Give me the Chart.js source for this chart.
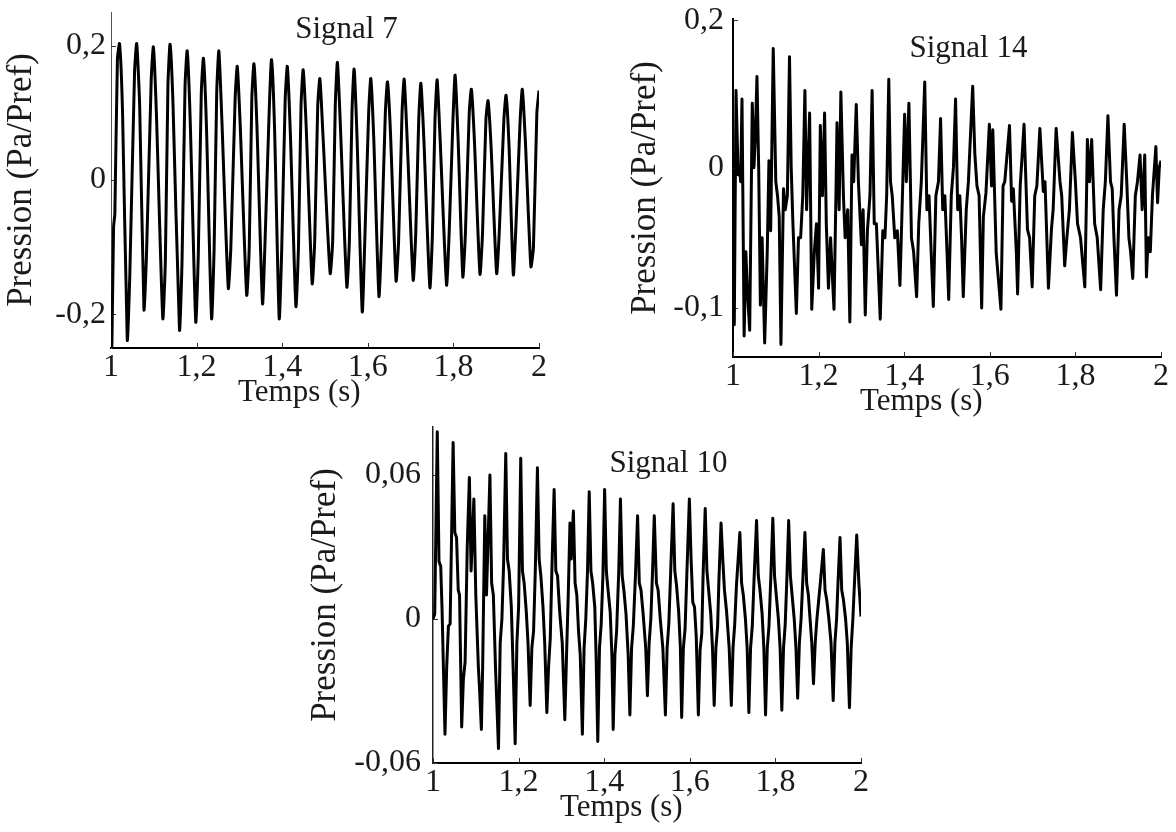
<!DOCTYPE html>
<html lang="fr">
<head>
<meta charset="UTF-8">
<title>Signaux de pression</title>
<script src="https://cdn.jsdelivr.net/npm/chart.js"></script>
<style>
  html, body { margin: 0; padding: 0; background: #fff; overflow: hidden; }
  .plot { position: absolute; }
</style>
</head>
<body>
<div class="plot" style="left:0px;top:0px;width:560px;height:420px"><canvas id="c7"></canvas></div>
<div class="plot" style="left:625px;top:0px;width:551px;height:425px"><canvas id="c14"></canvas></div>
<div class="plot" style="left:305px;top:410px;width:575px;height:422px"><canvas id="c10"></canvas></div>
<script>
// axe des temps commun
const xTicks = [1, 1.1, 1.2, 1.3, 1.4, 1.5, 1.6, 1.7, 1.8, 1.9, 2];
const xText = ['1', '', '1,2', '', '1,4', '', '1,6', '', '1,8', '', '2'];

// Signal 7 : temps (s) / pression (Pa/Pref)
const t7 = [1.000,1.002,1.006,1.009,1.015,1.020,1.027,
  1.038,1.044,1.055,1.060,1.067, 1.077,1.083,1.094,1.099,1.106, 1.121,1.127,1.133,1.138,1.145,
  1.160,1.166,1.173,1.178,1.185, 1.198,1.204,1.211,1.216,1.223, 1.235,1.241,1.247,1.252,1.259,
  1.274,1.280,1.290,1.295,1.302, 1.317,1.323,1.329,1.334,1.341, 1.354,1.360,1.370,1.375,1.382,
  1.393,1.399,1.407,1.412,1.419, 1.432,1.438,1.444,1.449,1.456, 1.470,1.476,1.483,1.488,1.495,
  1.512,1.518,1.524,1.529,1.536, 1.551,1.557,1.563,1.568,1.575, 1.587,1.593,1.602,1.607,1.614,
  1.626,1.632,1.641,1.646,1.653, 1.666,1.672,1.680,1.685,1.692, 1.706,1.712,1.719,1.724,1.731,
  1.745,1.751,1.757,1.762,1.769, 1.784,1.790,1.799,1.804,1.811, 1.822,1.828,1.837,1.842,1.849,
  1.862,1.868,1.876,1.881,1.888, 1.901,1.907,1.918,1.923,1.930, 1.940,1.946,1.956,1.961,1.968,
  1.981,1.987,1.995,2.000];
const p7 = [-0.17,-0.248,-0.07,-0.05,0.18,0.203,0.10,
  -0.238,-0.14,0.16,0.203,0.11, -0.193,-0.11,0.15,0.198,0.10, -0.206,-0.12,0.14,0.202,0.11,
  -0.223,-0.12,0.14,0.192,0.09, -0.211,-0.11,0.13,0.181,0.08, -0.206,-0.10,0.13,0.192,0.09,
  -0.161,-0.10,0.12,0.169,0.08, -0.171,-0.10,0.12,0.173,0.08, -0.184,-0.09,0.11,0.179,0.08,
  -0.206,-0.10,0.12,0.169,0.07, -0.188,-0.10,0.11,0.164,0.08, -0.154,-0.09,0.11,0.151,0.07,
  -0.139,-0.09,0.11,0.175,0.08, -0.159,-0.09,0.10,0.165,0.06, -0.196,-0.09,0.10,0.151,0.06,
  -0.173,-0.09,0.10,0.146,0.07, -0.150,-0.09,0.10,0.150,0.06, -0.149,-0.08,0.09,0.144,0.06,
  -0.160,-0.08,0.09,0.149,0.06, -0.156,-0.08,0.09,0.156,0.06, -0.144,-0.08,0.10,0.135,0.06,
  -0.140,-0.08,0.09,0.118,0.05, -0.139,-0.08,0.09,0.126,0.05, -0.141,-0.07,0.09,0.135,0.06,
  -0.129,-0.10,0.10,0.133];
const y7Ticks = [-0.25, -0.2, -0.15, -0.1, -0.05, 0, 0.05, 0.1, 0.15, 0.2, 0.25];
const y7Text = ['', '-0,2', '', '', '', '0', '', '', '', '0,2', ''];

// Signal 14
const t14 = [1.000,1.003,1.007,1.012,1.015,1.018,1.021,1.026,1.030,1.034,
  1.039,1.045,1.049,1.052,1.056,1.060,1.064,1.068,1.074,1.080,
  1.084,1.088,1.094,1.100,1.104,1.108,1.112,1.118,1.122,1.127,
  1.132,1.136,1.140,1.148,1.153,1.158,1.163,1.168,1.172,1.179,
  1.184,1.190,1.195,1.200,1.204,1.209,1.214,1.218,1.223,1.228,
  1.231,1.236,1.241,1.243,1.248,1.252,1.258,1.262,1.268,1.273,
  1.278,1.282,1.288,1.293,1.300,1.304,1.309,1.314,1.320,1.325,
  1.330,1.335,1.339,1.344,1.350,1.355,1.359,1.364,1.368,1.372,
  1.378,1.384,1.390,1.395,1.401,1.405,1.411,1.417,1.422,1.429,
  1.434,1.440,1.448,1.453,1.458,1.463,1.468,1.474,1.480,1.485,
  1.490,1.495,1.500,1.504,1.510,1.515,1.520,1.525,1.530,1.534,
  1.538,1.545,1.550,1.560,1.565,1.570,1.575,1.581,1.585,1.591,
  1.599,1.604,1.607,1.615,1.626,1.631,1.635,1.646,1.651,1.655,
  1.662,1.665,1.671,1.675,1.680,1.688,1.693,1.699,1.705,1.710,
  1.717,1.725,1.729,1.737,1.744,1.748,1.755,1.764,1.768,1.775,
  1.780,1.786,1.793,1.800,1.805,1.812,1.822,1.826,1.828,1.833,
  1.838,1.845,1.851,1.859,1.865,1.870,1.876,1.882,1.886,1.890,
  1.896,1.902,1.907,1.914,1.920,1.925,1.929,1.934,1.940,1.945,
  1.951,1.956,1.962,1.966,1.970,1.975,1.980,1.988,1.992,1.996,
  2.000];
const p14 = [-0.050,-0.112,0.055,-0.005,0.000,-0.010,0.049,-0.120,-0.060,-0.090,
  -0.116,0.046,0.000,0.020,0.065,0.000,-0.098,-0.050,-0.125,-0.060,
  0.005,-0.045,0.085,-0.010,-0.020,-0.035,-0.126,-0.015,-0.030,-0.020,
  0.079,0.000,-0.040,-0.104,-0.050,-0.050,-0.020,0.055,-0.030,0.039,
  -0.101,-0.060,-0.040,-0.086,0.030,-0.020,0.039,-0.040,-0.086,-0.050,
  -0.070,-0.101,-0.010,0.032,-0.030,0.054,-0.020,-0.050,-0.030,-0.110,
  0.009,-0.010,0.045,-0.010,-0.055,-0.030,-0.105,-0.045,-0.020,0.055,
  -0.040,-0.040,-0.070,-0.108,-0.045,-0.050,-0.020,0.063,-0.010,-0.020,
  -0.050,-0.045,-0.084,-0.030,0.038,-0.010,0.046,-0.050,-0.060,-0.092,
  -0.040,-0.010,0.061,-0.030,-0.020,-0.060,-0.099,-0.020,-0.010,0.035,
  -0.030,-0.020,-0.060,-0.094,-0.020,0.000,0.049,-0.030,-0.020,-0.050,
  -0.092,-0.030,-0.010,0.058,0.010,-0.013,-0.020,-0.100,-0.035,-0.018,
  0.031,-0.013,0.027,-0.061,-0.101,-0.013,-0.010,0.030,-0.024,-0.015,
  -0.060,-0.090,-0.013,0.006,0.031,-0.044,-0.050,-0.085,-0.020,-0.013,
  0.028,-0.017,-0.010,-0.086,-0.044,-0.030,0.028,-0.010,-0.020,-0.070,
  -0.050,-0.030,0.025,-0.010,-0.040,-0.050,-0.085,-0.020,0.020,-0.010,
  0.020,-0.040,-0.050,-0.087,-0.030,-0.010,0.037,-0.010,-0.015,-0.050,
  -0.091,-0.030,-0.020,0.031,-0.010,-0.050,-0.060,-0.079,-0.020,-0.010,
  0.009,-0.030,0.009,-0.078,-0.050,-0.060,-0.020,0.015,-0.025,0.000,
  0.005];
const y14Ticks = [-0.1, 0, 0.072, 0.105];
const y14Text = ['-0,1', '0', '', '0,2'];

// Signal 10
const t10 = [1.000,1.004,1.010,1.014,1.018,1.021,1.028,1.032,1.036,1.040,
  1.047,1.051,1.055,1.059,1.062,1.067,1.071,1.075,1.080,1.085,
  1.089,1.0955,1.100,1.106,1.109,1.113,1.116,1.121,1.125,1.133,
  1.137,1.141,1.146,1.153,1.157,1.161,1.165,1.170,1.174,1.178,
  1.183,1.188,1.192,1.196,1.200,1.205,1.209,1.213,1.218,1.222,
  1.227,1.231,1.235,1.239,1.244,1.248,1.252,1.257,1.261,1.266,
  1.270,1.274,1.278,1.283,1.287,1.291,1.296,1.302,1.308,1.312,
  1.316,1.320,1.323,1.328,1.332,1.336,1.340,1.344,1.349,1.353,
  1.357,1.361,1.365,1.369,1.373,1.378,1.381,1.385,1.389,1.393,
  1.397,1.401,1.405,1.409,1.414,1.418,1.421,1.425,1.429,1.434,
  1.438,1.442,1.446,1.451,1.456,1.460,1.464,1.468,1.473,1.478,
  1.482,1.486,1.491,1.497,1.501,1.505,1.509,1.513,1.517,1.522,
  1.526,1.531,1.537,1.543,1.547,1.551,1.555,1.561,1.565,1.569,
  1.574,1.578,1.581,1.585,1.589,1.593,1.599,1.603,1.607,1.611,
  1.615,1.620,1.624,1.628,1.631,1.636,1.640,1.644,1.649,1.653,
  1.657,1.661,1.665,1.668,1.673,1.677,1.681,1.686,1.692,1.697,
  1.701,1.705,1.709,1.717,1.721,1.725,1.730,1.734,1.738,1.742,
  1.746,1.750,1.756,1.760,1.764,1.769,1.773,1.777,1.781,1.785,
  1.789,1.794,1.798,1.802,1.807,1.811,1.815,1.819,1.823,1.827,
  1.831,1.835,1.839,1.844,1.848,1.852,1.856,1.860,1.864,1.869,
  1.873,1.877,1.881,1.885,1.889,1.893,1.897,1.905,1.912,1.916,
  1.920,1.925,1.930,1.935,1.939,1.943,1.946,1.951,1.955,1.959,
  1.964,1.968,1.973,1.977,1.981,1.985,1.990,1.995,2.000];
const p10 = [0.000,0.002,0.078,0.024,0.022,0.005,-0.048,-0.020,-0.003,-0.002,
  0.0735,0.036,0.034,0.012,0.010,-0.045,-0.025,-0.018,0.030,0.059,
  0.020,0.050,0.010,-0.020,-0.030,-0.046,-0.020,0.043,0.010,0.060,
  0.015,0.010,-0.020,-0.054,-0.010,0.000,0.023,0.069,0.025,0.020,
  0.005,-0.025,-0.052,-0.010,0.005,0.067,0.020,0.015,0.003,-0.010,
  -0.036,-0.012,-0.005,0.020,0.063,0.025,0.018,0.005,-0.010,-0.039,
  -0.020,-0.008,0.022,0.054,0.020,0.018,0.003,-0.010,-0.042,-0.015,
  0.010,0.040,0.025,0.045,0.015,0.010,-0.005,-0.015,-0.048,-0.012,
  0.000,0.020,0.053,0.020,0.015,0.005,-0.015,-0.051,-0.012,-0.002,
  0.018,0.054,0.020,0.012,0.003,-0.015,-0.046,-0.015,-0.005,0.020,
  0.050,0.018,0.012,0.002,-0.015,-0.040,-0.012,-0.003,0.018,0.043,
  0.015,0.012,0.002,-0.012,-0.032,-0.010,0.000,0.020,0.043,0.015,
  0.012,0.000,-0.012,-0.040,-0.012,-0.002,0.018,0.048,0.020,0.014,
  0.003,-0.012,-0.041,-0.012,-0.004,0.018,0.050,0.025,0.007,0.005,
  -0.007,-0.040,-0.013,-0.006,0.018,0.046,0.020,0.012,0.002,-0.012,
  -0.036,-0.012,-0.003,0.016,0.040,0.025,0.012,0.003,-0.012,-0.036,
  -0.012,-0.002,0.014,0.036,0.015,0.010,0.000,-0.012,-0.039,-0.012,
  -0.003,0.016,0.041,0.018,0.012,0.002,-0.012,-0.040,-0.012,-0.003,
  0.016,0.042,0.018,0.010,0.000,-0.012,-0.038,-0.012,-0.002,0.018,
  0.041,0.018,0.010,0.000,-0.012,-0.033,-0.010,0.000,0.016,0.036,
  0.015,0.010,0.000,-0.010,-0.027,-0.010,0.000,0.015,0.029,0.012,
  0.008,0.000,-0.010,-0.034,-0.010,0.000,0.014,0.034,0.012,0.008,
  0.000,-0.010,-0.037,-0.012,0.000,0.016,0.035,0.015,0.001];
const y10Ticks = [-0.06, -0.04, -0.02, 0, 0.02, 0.04, 0.06, 0.08];
const y10Text = ['-0,06', '', '', '0', '', '', '0,06', ''];

const FONT = '"Liberation Serif", "Times New Roman", serif';
const TXT = '#1a1a1a';

// petits traits vers l'interieur + titres dans le cadre
const signalText = {
  id: 'signalText',
  beforeDatasetsDraw(chart) {
    const {ctx, chartArea: a, scales: {x, y}} = chart;
    ctx.save();
    ctx.strokeStyle = '#333';
    ctx.lineWidth = 1;
    ctx.beginPath();
    x.ticks.forEach(tk => {
      const px = Math.round(x.getPixelForValue(tk.value)) + 0.5;
      ctx.moveTo(px, a.bottom);
      ctx.lineTo(px, a.bottom - 5);
    });
    y.ticks.forEach(tk => {
      const py = Math.round(y.getPixelForValue(tk.value)) + 0.5;
      ctx.moveTo(a.left, py);
      ctx.lineTo(a.left + 5, py);
    });
    ctx.stroke();
    ctx.restore();
  },
  afterDraw(chart, args, opts) {
    const {ctx, chartArea: a, scales: {x, y}} = chart;
    ctx.save();
    ctx.fillStyle = TXT;
    ctx.font = '31px ' + FONT;
    ctx.textAlign = 'center';
    ctx.textBaseline = 'alphabetic';
    ctx.fillText(opts.title, x.getPixelForValue(opts.at[0]), y.getPixelForValue(opts.at[1]));
    ctx.fillText('Temps (s)', x.getPixelForValue(opts.xTitleAt), a.bottom + 53);
    ctx.restore();
  }
};

function makePlot(id, t, p, o) {
  return new Chart(document.getElementById(id), {
    type: 'line',
    data: {
      datasets: [{
        data: t.map((v, i) => ({x: v, y: p[i]})),
        borderColor: '#000',
        borderWidth: 3,
        pointRadius: 0,
        tension: o.tension,
        borderJoinStyle: 'round'
      }]
    },
    options: {
      animation: false,
      responsive: true,
      maintainAspectRatio: false,
      events: [],
      layout: { padding: { left: 0, top: o.padTop, right: o.padRight, bottom: 0 } },
      plugins: {
        legend: { display: false },
        tooltip: { enabled: false },
        signalText: { title: o.title, at: o.titleAt, xTitleAt: 1.44 }
      },
      scales: {
        x: {
          type: 'linear', min: 1, max: 2,
          afterBuildTicks: s => { s.ticks = xTicks.map(v => ({value: v})); },
          ticks: {
            callback: (v, i) => xText[i] || null,
            autoSkip: false, maxRotation: 0, padding: 0,
            color: TXT, font: { family: FONT, size: 32 }
          },
          grid: { display: false, drawTicks: false },
          border: { color: '#000', width: 2 },
          afterFit: s => { s.height = o.xHeight; s.paddingLeft = 0; s.paddingRight = 0; }
        },
        y: {
          type: 'linear', min: o.yMin, max: o.yMax,
          afterBuildTicks: s => { s.ticks = o.yTicks.map(v => ({value: v})); },
          ticks: {
            callback: (v, i) => o.yText[i] || null,
            autoSkip: false, padding: o.yLabelPad,
            color: TXT, font: { family: FONT, size: 32 }
          },
          grid: { display: false, drawTicks: false },
          border: { color: o.yBorderColor, width: o.yBorder },
          title: {
            display: true, text: 'Pression (Pa/Pref)', color: TXT,
            font: { family: FONT, size: 35 },
            padding: { top: o.yTitlePad, bottom: 0 }
          },
          afterFit: s => { s.width = o.yWidth; s.paddingTop = 0; s.paddingBottom = 0; }
        }
      }
    },
    plugins: [signalText]
  });
}

makePlot('c7', t7, p7, {
  yMin: -0.25, yMax: 0.25, yTicks: y7Ticks, yText: y7Text,
  title: 'Signal 7', titleAt: [1.55, 0.211], tension: 0.2,
  padTop: 12, padRight: 21, yWidth: 111, xHeight: 72,
  yBorder: 1, yBorderColor: '#555', yLabelPad: 5, yTitlePad: 1
});
makePlot('c14', t14, p14, {
  yMin: -0.135, yMax: 0.106, yTicks: y14Ticks, yText: y14Text,
  title: 'Signal 14', titleAt: [1.55, 0.0786], tension: 0,
  padTop: 19, padRight: 15, yWidth: 108, xHeight: 68,
  yBorder: 2, yBorderColor: '#000', yLabelPad: 9, yTitlePad: 0
});
makePlot('c10', t10, p10, {
  yMin: -0.06, yMax: 0.08, yTicks: y10Ticks, yText: y10Text,
  title: 'Signal 10', titleAt: [1.55, 0.0613], tension: 0,
  padTop: 17, padRight: 19, yWidth: 128, xHeight: 69,
  yBorder: 1.5, yBorderColor: '#222', yLabelPad: 12, yTitlePad: 0
});
</script>
</body>
</html>
